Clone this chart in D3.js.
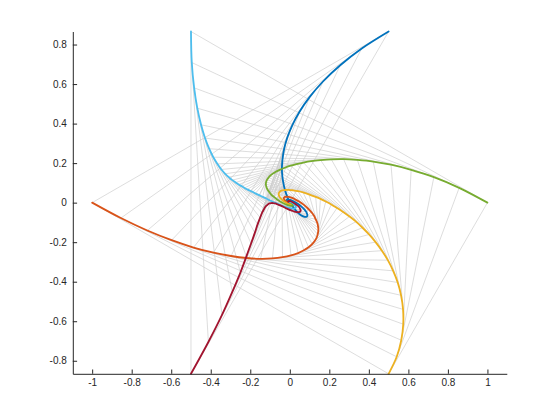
<!DOCTYPE html>
<html>
<head>
<meta charset="utf-8">
<script src="https://cdn.jsdelivr.net/npm/d3@7"></script>
<style>
  body { margin: 0; background: #ffffff; }
  svg { display: block; }
  .tick text { font-family: "Liberation Sans", Arial, Helvetica, sans-serif; font-size: 10px; fill: #262626; }
</style>
</head>
<body>
<svg id="chart" width="560" height="420"></svg>
<script>
// sample times of the pursuit (one gray chase line per sample)
const times = [0,0.1,0.2,0.3,0.4,0.5,0.6,0.7,0.8,0.9,1.0,1.1,1.2,1.3,1.4,1.5,1.6,1.7,1.8,1.9,2.0,2.15,2.3,2.45,2.6,2.8,3.0,3.25,3.5,3.75,4.0,4.5,5.0,5.5,6.0,6.5,7.0,8.0];

// positions [x, y] of each pursuer at those times
const blue = [[0.5,0.866],[0.364,0.780],[0.255,0.695],[0.168,0.613],[0.101,0.535],[0.050,0.461],[0.013,0.392],[-0.013,0.328],[-0.029,0.270],[-0.037,0.218],[-0.040,0.170],[-0.037,0.128],[-0.031,0.091],[-0.023,0.059],[-0.013,0.031],[-0.002,0.007],[0.010,-0.013],[0.022,-0.029],[0.033,-0.042],[0.043,-0.053],[0.053,-0.061],[0.065,-0.068],[0.075,-0.072],[0.082,-0.072],[0.087,-0.070],[0.089,-0.064],[0.087,-0.056],[0.081,-0.044],[0.071,-0.031],[0.059,-0.020],[0.046,-0.009],[0.021,0.006],[0.002,0.014],[-0.011,0.016],[-0.016,0.014],[-0.016,0.010],[-0.013,0.006],[-0.005,-0.001]];
const orange = [[-1,0],[-0.855,-0.078],[-0.721,-0.141],[-0.598,-0.190],[-0.487,-0.227],[-0.386,-0.253],[-0.297,-0.270],[-0.218,-0.280],[-0.148,-0.284],[-0.088,-0.282],[-0.037,-0.276],[0.006,-0.267],[0.042,-0.255],[0.071,-0.241],[0.095,-0.226],[0.113,-0.210],[0.126,-0.194],[0.136,-0.177],[0.141,-0.160],[0.144,-0.144],[0.144,-0.128],[0.140,-0.105],[0.131,-0.084],[0.121,-0.064],[0.108,-0.047],[0.089,-0.027],[0.070,-0.010],[0.047,0.006],[0.026,0.017],[0.008,0.025],[-0.006,0.029],[-0.024,0.029],[-0.030,0.024],[-0.028,0.015],[-0.021,0.008],[-0.013,0.001],[-0.005,-0.003],[0.004,-0.005]];
const yellow = [[0.5,-0.866],[0.541,-0.780],[0.564,-0.696],[0.574,-0.615],[0.573,-0.540],[0.563,-0.469],[0.546,-0.404],[0.523,-0.345],[0.496,-0.291],[0.466,-0.243],[0.434,-0.200],[0.401,-0.161],[0.368,-0.127],[0.335,-0.096],[0.302,-0.070],[0.270,-0.047],[0.239,-0.027],[0.210,-0.009],[0.182,0.006],[0.155,0.019],[0.131,0.029],[0.097,0.042],[0.067,0.052],[0.041,0.058],[0.018,0.062],[-0.006,0.065],[-0.025,0.064],[-0.042,0.061],[-0.051,0.055],[-0.056,0.047],[-0.056,0.039],[-0.047,0.023],[-0.033,0.009],[-0.017,-0.001],[-0.005,-0.007],[0.003,-0.009],[0.008,-0.009],[0.008,-0.004]];
const green = [[1,0],[0.857,0.075],[0.729,0.129],[0.614,0.166],[0.512,0.192],[0.422,0.208],[0.342,0.216],[0.272,0.220],[0.210,0.219],[0.156,0.215],[0.109,0.210],[0.069,0.203],[0.034,0.195],[0.004,0.187],[-0.022,0.178],[-0.044,0.169],[-0.062,0.161],[-0.077,0.152],[-0.090,0.144],[-0.100,0.136],[-0.107,0.127],[-0.115,0.116],[-0.120,0.104],[-0.121,0.093],[-0.119,0.082],[-0.114,0.069],[-0.106,0.056],[-0.094,0.041],[-0.079,0.028],[-0.064,0.016],[-0.049,0.006],[-0.022,-0.008],[-0.002,-0.015],[0.011,-0.016],[0.016,-0.014],[0.016,-0.010],[0.013,-0.006],[0.005,0.001]];
const lightBlue = [[-0.5,0.866],[-0.496,0.709],[-0.484,0.581],[-0.468,0.478],[-0.449,0.394],[-0.429,0.327],[-0.408,0.273],[-0.387,0.230],[-0.366,0.196],[-0.346,0.168],[-0.327,0.146],[-0.309,0.129],[-0.291,0.114],[-0.274,0.102],[-0.259,0.092],[-0.243,0.083],[-0.229,0.074],[-0.215,0.067],[-0.201,0.060],[-0.187,0.054],[-0.174,0.047],[-0.155,0.038],[-0.137,0.029],[-0.119,0.021],[-0.102,0.012],[-0.081,0.002],[-0.061,-0.006],[-0.038,-0.016],[-0.019,-0.023],[-0.003,-0.027],[0.010,-0.030],[0.026,-0.029],[0.031,-0.023],[0.028,-0.015],[0.021,-0.008],[0.013,-0.001],[0.005,0.003],[-0.004,0.005]];
const darkRed = [[-0.5,-0.866],[-0.412,-0.705],[-0.343,-0.568],[-0.291,-0.452],[-0.250,-0.354],[-0.220,-0.273],[-0.196,-0.207],[-0.177,-0.153],[-0.163,-0.110],[-0.150,-0.076],[-0.140,-0.051],[-0.130,-0.032],[-0.121,-0.018],[-0.112,-0.010],[-0.103,-0.004],[-0.094,-0.002],[-0.085,-0.002],[-0.075,-0.004],[-0.065,-0.007],[-0.056,-0.011],[-0.046,-0.015],[-0.031,-0.022],[-0.017,-0.029],[-0.004,-0.035],[0.009,-0.040],[0.023,-0.045],[0.035,-0.048],[0.046,-0.048],[0.052,-0.046],[0.055,-0.041],[0.054,-0.035],[0.046,-0.021],[0.032,-0.009],[0.017,0.001],[0.005,0.007],[-0.003,0.009],[-0.008,0.009],[-0.008,0.004]];

// tick values and labels
const xTicks = [-1,-0.8,-0.6,-0.4,-0.2,0,0.2,0.4,0.6,0.8,1];
const xTickLabels = ["-1","-0.8","-0.6","-0.4","-0.2","0","0.2","0.4","0.6","0.8","1"];
const yTicks = [-0.8,-0.6,-0.4,-0.2,0,0.2,0.4,0.6,0.8];
const yTickLabels = ["-0.8","-0.6","-0.4","-0.2","0","0.2","0.4","0.6","0.8"];

// pursuers: each one chases its target
const mice = [
  { pts: blue,      color: "#0072BD", target: 1 },
  { pts: orange,    color: "#D95319", target: 2 },
  { pts: yellow,    color: "#EDB120", target: 3 },
  { pts: green,     color: "#77AC30", target: 4 },
  { pts: lightBlue, color: "#4DBEEE", target: 5 },
  { pts: darkRed,   color: "#A2142F", target: 0 }
];

const svg = d3.select("#chart");
const plotLeft = 72.8, plotRight = 506.8, plotTop = 31.5, plotBottom = 373.8;
const x = d3.scaleLinear().domain([-1.098, 1.098]).range([plotLeft, plotRight]);
const y = d3.scaleLinear().domain([-0.866, 0.866]).range([plotBottom, plotTop]);

// gray chase lines
const segs = [];
mice.forEach(m => {
  const tgt = mice[m.target].pts;
  times.forEach((t, k) => segs.push([m.pts[k], tgt[k]]));
});
svg.append("g").selectAll("line").data(segs).join("line")
  .attr("x1", d => x(d[0][0])).attr("y1", d => y(d[0][1]))
  .attr("x2", d => x(d[1][0])).attr("y2", d => y(d[1][1]))
  .attr("stroke", "#cfcfcf").attr("stroke-width", 0.7);

// pursuit curves
const line = d3.line().x(d => x(d[0])).y(d => y(d[1])).curve(d3.curveCatmullRom.alpha(0.5));
svg.append("g").selectAll("path").data(mice).join("path")
  .attr("d", d => line(d.pts))
  .attr("fill", "none")
  .attr("stroke", d => d.color)
  .attr("stroke-width", 1.8)
  .attr("stroke-linejoin", "round")
  .attr("stroke-linecap", "round");

// axes
const xAxis = d3.axisBottom(x).tickValues(xTicks).tickFormat((d, i) => xTickLabels[i])
  .tickSizeInner(-4.3).tickSizeOuter(0).tickPadding(5);
const yAxis = d3.axisLeft(y).tickValues(yTicks).tickFormat((d, i) => yTickLabels[i])
  .tickSizeInner(-4.3).tickSizeOuter(0).tickPadding(6);

const gx = svg.append("g").attr("transform", `translate(0,${plotBottom})`).call(xAxis);
const gy = svg.append("g").attr("transform", `translate(${plotLeft},0)`).call(yAxis);
[gx, gy].forEach(g => {
  g.select(".domain").attr("stroke", "#262626").attr("stroke-width", 1);
  g.selectAll(".tick line").attr("stroke", "#262626").attr("stroke-width", 1);
});
</script>
</body>
</html>
